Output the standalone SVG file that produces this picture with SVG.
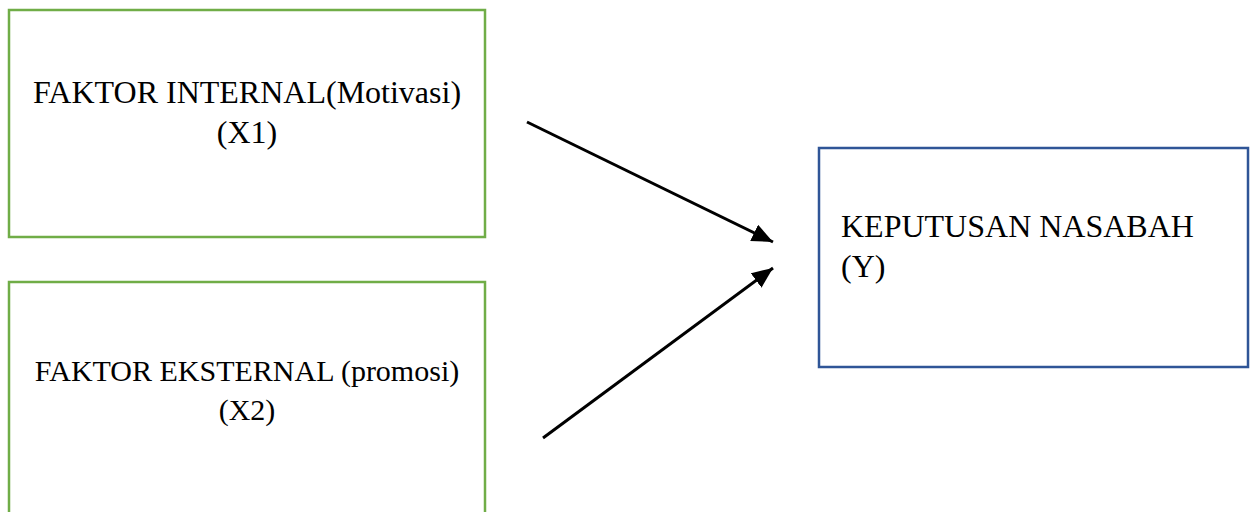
<svg xmlns="http://www.w3.org/2000/svg" width="1256" height="512" viewBox="0 0 1256 512">
<defs>
<style>
.g{fill:#fff;stroke:#70AD47;stroke-width:2.5}
.b{fill:#fff;stroke:#2F5597;stroke-width:2.5}
.t{font-family:"Liberation Serif","Times New Roman",serif;font-size:32px;fill:#000}
.s{font-size:30px}
.c{stroke:#000;stroke-width:3;fill:none}
</style>
<marker id="a" viewBox="0 0 10 10" refX="10" refY="5" markerWidth="21" markerHeight="18" markerUnits="userSpaceOnUse" orient="auto" preserveAspectRatio="none">
<path d="M0,0 L10,5 L0,10 z" fill="#000"/>
</marker>
</defs>
<rect width="1256" height="512" fill="#fff"/>
<g id="x1">
<rect class="g" x="9" y="10" width="476" height="227"/>
<text class="t" x="247" y="103" text-anchor="middle">FAKTOR INTERNAL(Motivasi)</text>
<text class="t" x="247" y="143" text-anchor="middle">(X1)</text>
</g>
<g id="x2">
<rect class="g" x="9" y="282" width="476" height="250"/>
<text class="t s" x="247" y="381" text-anchor="middle">FAKTOR EKSTERNAL (promosi)</text>
<text class="t s" x="247" y="420" text-anchor="middle">(X2)</text>
</g>
<g id="y">
<rect class="b" x="819" y="148" width="429" height="219"/>
<text class="t" x="841" y="237">KEPUTUSAN NASABAH</text>
<text class="t" x="841" y="277">(Y)</text>
</g>
<g id="connectors">
<line class="c" x1="527" y1="122" x2="773" y2="242" marker-end="url(#a)"/>
<line class="c" x1="543" y1="438" x2="773" y2="268" marker-end="url(#a)"/>
</g>
</svg>
